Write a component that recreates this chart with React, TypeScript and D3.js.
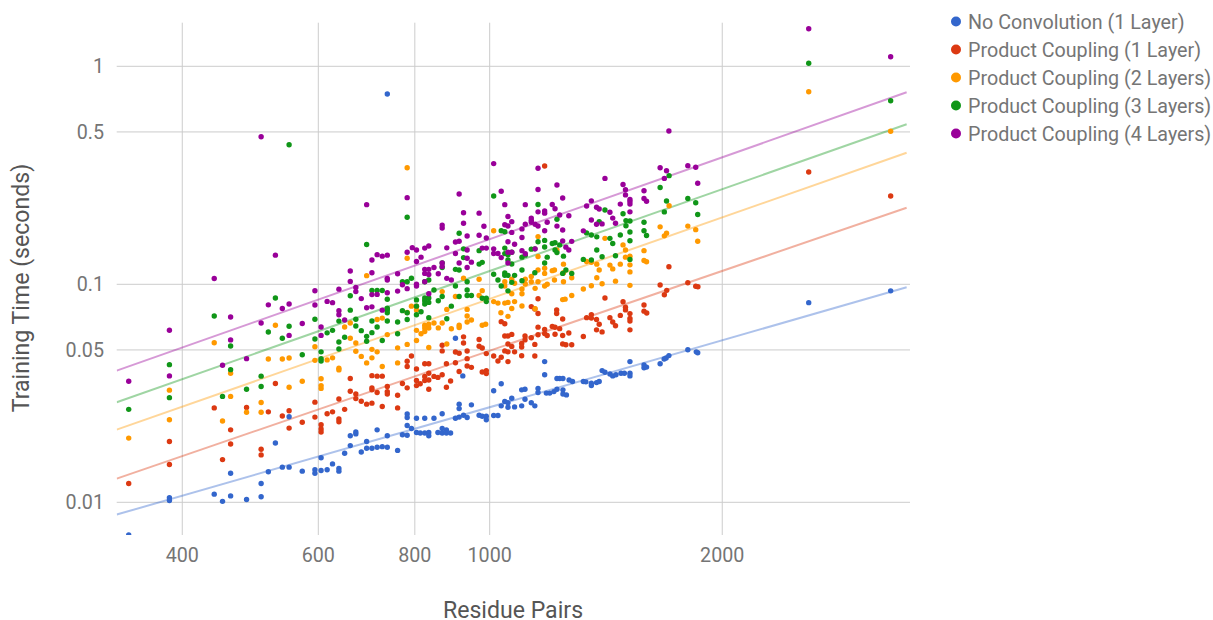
import { scaleLog, line } from "d3";

const width = 1213;
const height = 620;

const xTicks = [400, 600, 800, 1000, 2000];
const yTicks = [1, 0.5, 0.1, 0.05, 0.01];

// each row: residue pairs, then the training times seen at that size
const noConvolution = [
	[341, 0.00708], [385, 0.0105, 0.0102], [440, 0.0109], [451, 0.0101], [462, 0.0107, 0.0136], [484.5, 0.0103],
	[506, 0.0106, 0.0122], [517, 0.0138], [528, 0.0187], [539, 0.0145], [550, 0.0145, 0.0247], [572, 0.0139],
	[594, 0.0141, 0.0136], [605, 0.014, 0.016], [616, 0.0141], [626, 0.015], [638, 0.0143, 0.0139], [649, 0.0168],
	[660, 0.0182, 0.0202], [671, 0.0206, 0.021], [682, 0.017], [693, 0.019, 0.0177], [704, 0.0177], [715, 0.0179, 0.0215],
	[726, 0.018], [737, 0.0179, 0.0202, 0.746], [760, 0.0173], [771, 0.0204], [782, 0.0203, 0.0254, 0.0245, 0.0225],
	[792, 0.0218], [804, 0.0209, 0.0243], [813, 0.0208], [824, 0.0208, 0.0243], [834, 0.0209, 0.0202], [847, 0.0243],
	[857, 0.0209], [868, 0.0218, 0.0208, 0.0255], [879, 0.0215, 0.0208], [890, 0.0208], [903, 0.0243, 0.0566],
	[913, 0.0282, 0.0269, 0.0246], [923, 0.038], [925, 0.0251], [935, 0.0245], [947, 0.028], [969, 0.0251], [978, 0.0248],
	[990, 0.0248, 0.0239], [1012, 0.0325, 0.025], [1025, 0.025], [1035, 0.0277, 0.035], [1046, 0.029], [1056, 0.0273, 0.0286],
	[1068, 0.03], [1077, 0.0274], [1100, 0.0328, 0.0277], [1111, 0.033, 0.0297], [1132, 0.0286], [1144, 0.0277],
	[1155, 0.0333, 0.0319], [1178, 0.0442, 0.0385], [1184, 0.0317], [1196, 0.0317], [1211, 0.0322], [1222, 0.033, 0.037],
	[1232, 0.037], [1244, 0.0328, 0.0314, 0.037], [1257, 0.0311], [1267, 0.0364], [1280, 0.0358], [1322, 0.0358],
	[1332, 0.0357], [1354, 0.0352, 0.0343], [1375, 0.0354], [1386, 0.0358], [1398, 0.0402], [1410, 0.0395], [1431, 0.0388],
	[1443, 0.038], [1457, 0.0385], [1479, 0.0391], [1494, 0.0391], [1519, 0.0442, 0.0391, 0.038], [1584, 0.0427, 0.0414],
	[1596, 0.0417], [1662, 0.0432], [1682, 0.0454], [1692, 0.0459], [1706, 0.0471], [1805, 0.0501], [1851, 0.049],
	[1859, 0.0485], [2588, 0.0824], [3304, 0.0933],
];

const coupling1 = [
	[341, 0.0122], [385, 0.019, 0.0149], [440, 0.0271], [451, 0.0157], [462, 0.0215, 0.0185], [484.5, 0.0272],
	[506, 0.0175, 0.0165], [517, 0.026], [528, 0.0351], [539, 0.0249], [550, 0.0263, 0.0219], [572, 0.0233],
	[594, 0.0288, 0.0246], [605, 0.0227, 0.0217, 0.021], [616, 0.0255], [626, 0.026], [638, 0.0298, 0.0241, 0.0234],
	[649, 0.0267], [660, 0.037, 0.0323], [671, 0.0314, 0.0299], [682, 0.0291], [693, 0.0282],
	[704, 0.0381, 0.0335, 0.0328, 0.0285], [715, 0.0379, 0.0319], [726, 0.0379, 0.0275], [737, 0.034, 0.0322, 0.0314],
	[760, 0.031, 0.0271], [771, 0.0351], [782, 0.0444, 0.042, 0.0335], [792, 0.0469], [804, 0.0409, 0.0362, 0.0343],
	[813, 0.035], [824, 0.0432, 0.0378, 0.0362], [834, 0.0432, 0.0391, 0.0364, 0.033], [847, 0.0378], [857, 0.0374],
	[868, 0.0385, 0.0525, 0.0495], [879, 0.0337, 0.0432], [890, 0.036], [903, 0.0437, 0.0489], [913, 0.0483, 0.0398],
	[925, 0.0574, 0.0538], [935, 0.0494, 0.0456, 0.0422], [947, 0.0416], [969, 0.0558, 0.052], [978, 0.051, 0.0396],
	[990, 0.0481, 0.0402, 0.039], [1012, 0.0469], [1025, 0.0445], [1035, 0.0463, 0.0674], [1046, 0.0579, 0.0659, 0.0495],
	[1056, 0.0579, 0.0532, 0.049, 0.0442], [1068, 0.0589, 0.0519], [1077, 0.049], [1100, 0.0535, 0.0516, 0.047],
	[1111, 0.0579, 0.0556], [1132, 0.0569, 0.079], [1144, 0.053, 0.0469, 0.077], [1155, 0.0587, 0.0858, 0.0735, 0.0636],
	[1178, 0.0594, 0.0621, 0.349], [1187, 0.0582], [1205, 0.064], [1215, 0.059, 0.0635], [1221, 0.0763, 0.0735],
	[1232, 0.0626], [1243, 0.0693, 0.0582, 0.0532], [1255, 0.0528], [1266, 0.0598], [1277, 0.0528], [1322, 0.0576],
	[1335, 0.0703], [1354, 0.0726, 0.07], [1375, 0.069, 0.0618], [1386, 0.0656], [1398, 0.0605], [1410, 0.0866],
	[1431, 0.0703], [1443, 0.0672], [1455, 0.0645], [1476, 0.072], [1488, 0.0832], [1499, 0.0785, 0.0763],
	[1519, 0.0734, 0.0698, 0.0679, 0.0618], [1584, 0.0804, 0.0753], [1597, 0.0738], [1662, 0.0993], [1683, 0.0895],
	[1695, 0.0938], [1706, 0.1204], [1805, 0.1017], [1848, 0.0979], [1860, 0.0975], [2588, 0.3274], [3304, 0.2541],
];

const coupling2 = [
	[341, 0.0197], [385, 0.0327, 0.0239], [440, 0.0539], [451, 0.0236], [462, 0.0391, 0.0306], [484.5, 0.0259],
	[506, 0.0287, 0.0259], [517, 0.0454], [528, 0.0649], [539, 0.0454], [550, 0.0459, 0.0337], [572, 0.0359],
	[594, 0.0517, 0.0448], [605, 0.0369, 0.0343, 0.0333], [616, 0.045], [626, 0.046], [638, 0.0412, 0.0405], [649, 0.0637],
	[660, 0.0665, 0.0566], [671, 0.0538, 0.0493], [682, 0.0467], [693, 0.1096, 0.0436], [704, 0.0503, 0.046],
	[715, 0.069, 0.049], [726, 0.07, 0.042], [737, 0.0588], [760, 0.0511, 0.0436], [782, 0.1316, 0.0742, 0.053, 0.3426],
	[792, 0.0794], [804, 0.0794, 0.0763, 0.0615, 0.0552], [815, 0.0593], [824, 0.0649, 0.063, 0.0607],
	[834, 0.0656, 0.063, 0.0513], [847, 0.0665], [858, 0.0631], [868, 0.0665, 0.0926], [880, 0.0767, 0.0532], [892, 0.0625],
	[903, 0.0879], [913, 0.0649, 0.0634], [925, 0.1066], [935, 0.0767, 0.0715, 0.0672], [947, 0.0686], [969, 0.1055, 0.0889],
	[978, 0.0935, 0.0649], [988, 0.0656], [1012, 0.0833, 0.1761], [1025, 0.082], [1034, 0.0741], [1046, 0.082, 0.1027, 0.0983],
	[1056, 0.0826, 0.0713], [1068, 0.0905, 0.0775, 0.1055], [1077, 0.1011, 0.0833], [1101, 0.0952, 0.0905, 0.0795],
	[1112, 0.1055, 0.1003], [1132, 0.1086, 0.1027], [1145, 0.0958, 0.0773], [1155, 0.1655, 0.1342, 0.1164, 0.1027],
	[1178, 0.1184, 0.1122, 0.0983], [1187, 0.1], [1205, 0.1155], [1213, 0.1164, 0.1047], [1222, 0.1437], [1243, 0.0851],
	[1246, 0.1237, 0.1129, 0.1027], [1252, 0.0855], [1277, 0.1072, 0.0889], [1322, 0.0952], [1335, 0.1272],
	[1354, 0.1261, 0.0985], [1376, 0.1237, 0.1072], [1386, 0.1164], [1398, 0.1006], [1410, 0.1625], [1431, 0.1225],
	[1443, 0.1177], [1455, 0.1034], [1476, 0.1237], [1488, 0.1516], [1499, 0.1437, 0.1332],
	[1519, 0.1346, 0.1228, 0.114, 0.0989], [1584, 0.1427, 0.1286], [1596, 0.1269], [1662, 0.1835], [1683, 0.1668],
	[1694, 0.1714], [1707, 0.2293], [1805, 0.1849], [1848, 0.1781], [1859, 0.1575], [2588, 0.7647], [3304, 0.5035],
];

const coupling3 = [
	[341, 0.0267], [385, 0.0428, 0.0302], [440, 0.0715], [451, 0.0306], [462, 0.0521, 0.0406], [484.5, 0.033],
	[506, 0.0379, 0.034], [517, 0.0604], [528, 0.0866], [539, 0.0566], [550, 0.0642, 0.4369], [572, 0.0475],
	[594, 0.0691, 0.0561], [605, 0.049, 0.0456, 0.0445], [616, 0.0599], [626, 0.0615], [638, 0.0678, 0.0544, 0.0505],
	[649, 0.0572], [660, 0.0886, 0.0761], [671, 0.0691, 0.0644], [682, 0.0613], [693, 0.0577, 0.0548, 0.1523],
	[704, 0.0937, 0.0679, 0.06], [715, 0.0937, 0.0637], [726, 0.0937, 0.0552], [737, 0.0854, 0.0777, 0.0763, 0.0741, 0.0679],
	[760, 0.0672, 0.0593], [771, 0.1027, 0.0757], [782, 0.1027, 0.2029, 0.0741, 0.069], [792, 0.1066],
	[804, 0.0848, 0.0794, 0.0725], [815, 0.0748], [824, 0.1027, 0.0866, 0.084, 0.0812], [834, 0.1047, 0.0866, 0.0826, 0.0703],
	[847, 0.0942], [858, 0.084], [868, 0.1252, 0.1195, 0.0879], [880, 0.0695], [892, 0.0794], [903, 0.1171, 0.0983],
	[913, 0.1164, 0.1714, 0.0879], [925, 0.1454, 0.1326], [935, 0.1027, 0.0942, 0.0889], [947, 0.0889], [969, 0.1427, 0.1238],
	[978, 0.1261, 0.0863], [990, 0.0863, 0.0833], [1012, 0.2541, 0.1112], [1025, 0.1047], [1035, 0.1761, 0.0983],
	[1046, 0.1743, 0.1466, 0.1383, 0.1128, 0.1099], [1056, 0.1366, 0.1293, 0.1099, 0.0933], [1068, 0.1403, 0.124, 0.1021],
	[1077, 0.1099], [1101, 0.1332, 0.1164, 0.1039], [1112, 0.1361], [1132, 0.145], [1144, 0.1454, 0.113], [1155, 0.2325, 0.1568],
	[1178, 0.159, 0.1483, 0.1252], [1187, 0.1332], [1205, 0.154], [1215, 0.1552, 0.1437], [1222, 0.1987, 0.1398], [1232, 0.1516],
	[1243, 0.1122], [1246, 0.1346], [1255, 0.1164], [1277, 0.1122], [1322, 0.1301], [1335, 0.1721], [1354, 0.1683, 0.1293],
	[1376, 0.1651, 0.1437], [1386, 0.1938], [1398, 0.1338], [1410, 0.2192], [1431, 0.1625], [1443, 0.154], [1455, 0.1351],
	[1476, 0.1683], [1488, 0.2106], [1501, 0.196, 0.1856], [1519, 0.1953, 0.1737, 0.1584, 0.1301], [1584, 0.1925, 0.1761],
	[1596, 0.1675], [1662, 0.2781], [1683, 0.2148], [1694, 0.2411], [1707, 0.3151], [1805, 0.2476], [1848, 0.2365],
	[1859, 0.209], [2588, 1.032], [3304, 0.6952],
];

const coupling4 = [
	[341, 0.0359], [385, 0.0616, 0.038], [440, 0.1064], [451, 0.0425], [462, 0.0708, 0.0556], [484.5, 0.0456],
	[506, 0.0665, 0.4754], [517, 0.0805], [528, 0.1361], [539, 0.0774], [550, 0.0812, 0.0583], [572, 0.0661],
	[594, 0.0934, 0.0804], [605, 0.0637, 0.0583], [616, 0.0835], [626, 0.0824], [638, 0.095, 0.0757, 0.0725], [649, 0.0686],
	[660, 0.115, 0.1031], [671, 0.0968, 0.0926], [682, 0.086], [693, 0.2319, 0.0781], [704, 0.1293, 0.113, 0.0897, 0.0788],
	[715, 0.1368, 0.0899], [726, 0.1346, 0.0761], [737, 0.1361, 0.1065, 0.1047, 0.0914], [760, 0.1118, 0.0931], [771, 0.0996],
	[782, 0.1403, 0.0955, 0.2498], [794, 0.1473], [804, 0.1437, 0.1272, 0.1, 0.0983], [815, 0.1332],
	[824, 0.1466, 0.1171, 0.1122, 0.1027], [834, 0.1499, 0.1171, 0.111, 0.0905], [847, 0.1195], [858, 0.1118],
	[868, 0.1869, 0.1812, 0.1252, 0.1207], [880, 0.147, 0.1065], [892, 0.1047], [903, 0.1563, 0.1385], [913, 0.1575, 0.1252, 0.2594],
	[925, 0.213, 0.1905], [935, 0.1666, 0.1437, 0.1316, 0.1195], [947, 0.1264], [969, 0.212, 0.168], [978, 0.1466], [983, 0.1845],
	[990, 0.1631, 0.1466], [1012, 0.3578, 0.1454, 0.1385], [1025, 0.1385], [1035, 0.2672, 0.1326], [1046, 0.2319, 0.1875],
	[1056, 0.2046, 0.185, 0.1568, 0.1403, 0.1252], [1068, 0.1938, 0.173, 0.1403], [1077, 0.1527], [1101, 0.1795, 0.164, 0.1427],
	[1112, 0.2319, 0.1886, 0.138], [1132, 0.2012, 0.1965, 0.1925], [1145, 0.1886, 0.1454], [1155, 0.3405, 0.272, 0.215, 0.185],
	[1178, 0.2168, 0.212, 0.1761], [1187, 0.1925], [1205, 0.2325], [1215, 0.222], [1222, 0.2853, 0.1849], [1232, 0.2079],
	[1243, 0.2487, 0.1775, 0.158], [1255, 0.1481], [1266, 0.2062, 0.1437], [1277, 0.1574], [1322, 0.1759], [1335, 0.2286],
	[1354, 0.2415, 0.1973], [1375, 0.2255, 0.1886], [1386, 0.2216], [1398, 0.1893], [1410, 0.306], [1431, 0.214], [1443, 0.2012],
	[1455, 0.1905], [1476, 0.2333], [1488, 0.2868], [1499, 0.2716, 0.2571], [1519, 0.2452, 0.2396, 0.2333, 0.215],
	[1584, 0.2685, 0.2476], [1596, 0.2405], [1662, 0.3427], [1683, 0.306], [1694, 0.3319], [1706, 0.505], [1805, 0.3501],
	[1848, 0.3443], [1859, 0.2907], [2588, 1.488], [3304, 1.107],
];

const seriesNames = [
	"No Convolution (1 Layer)",
	"Product Coupling (1 Layer)",
	"Product Coupling (2 Layers)",
	"Product Coupling (3 Layers)",
	"Product Coupling (4 Layers)",
];
const seriesRows = [noConvolution, coupling1, coupling2, coupling3, coupling4];
const seriesColors = ["#3366cc", "#dc3912", "#ff9900", "#109618", "#990099"];

// power trendlines: time at 1000 residue pairs and the exponent
const trendAt1000 = [0.0273, 0.0496, 0.0857, 0.1151, 0.161];
const trendPower = [1.02, 1.215, 1.242, 1.247, 1.2486];
const trendExtent = [329, 3465];

const x = scaleLog().domain([329, 3500]).range([116.7, 910]);
const y = scaleLog().domain([0.00708, 1.585]).range([535, 22.7]);

const font = "Roboto, sans-serif";

const App = () => {
	const [x0, x1] = x.range();
	const [y0, y1] = y.range();

	return (
		<svg width={width} height={height} style={{ position: "absolute", left: 0, top: 0 }} fontFamily={font}>
			<defs>
				<clipPath id="plot">
					<rect x={x0} y={y1} width={x1 - x0} height={y0 - y1} />
				</clipPath>
			</defs>

			{xTicks.map((t) => (
				<g key={t}>
					<line x1={x(t)} x2={x(t)} y1={y1} y2={y0} stroke="#ccc" />
					<text x={x(t)} y={562} textAnchor="middle" fontSize={19.7} fill="#757575">{t}</text>
				</g>
			))}
			{yTicks.map((t) => (
				<g key={t}>
					<line x1={x0} x2={x1} y1={y(t)} y2={y(t)} stroke="#ccc" />
					<text x={104} y={y(t) + 7} textAnchor="end" fontSize={19.7} fill="#757575">{t}</text>
				</g>
			))}

			<g clipPath="url(#plot)">
				{seriesRows.map((_, i) => {
					const trend = line<number>()
						.x((d) => x(d))
						.y((d) => y(trendAt1000[i] * Math.pow(d / 1000, trendPower[i])));
					return (
						<path key={i} d={trend(trendExtent) ?? ""} fill="none" stroke={seriesColors[i]} strokeOpacity={0.4} strokeWidth={2} />
					);
				})}
				{seriesRows.map((rows, i) => (
					<g key={i} fill={seriesColors[i]}>
						{rows.flatMap(([px, ...times]) =>
							times.map((t) => <circle key={`${px}-${t}`} cx={x(px)} cy={y(t)} r={2.7} />)
						)}
					</g>
				))}
			</g>

			<text x={513} y={614} dy={3.5} textAnchor="middle" fontSize={23.1} fill="#555">Residue Pairs</text>
			<text transform="translate(29,288) rotate(-90)" textAnchor="middle" fontSize={23.1} fill="#555">Training Time (seconds)</text>

			{seriesNames.map((name, i) => (
				<g key={name} transform={`translate(0,${21.5 + i * 28})`}>
					<circle cx={956} cy={0} r={5} fill={seriesColors[i]} />
					<text x={968} y={7} fontSize={19.7} fill="#757575">{name}</text>
				</g>
			))}
		</svg>
	);
};

export default App;
